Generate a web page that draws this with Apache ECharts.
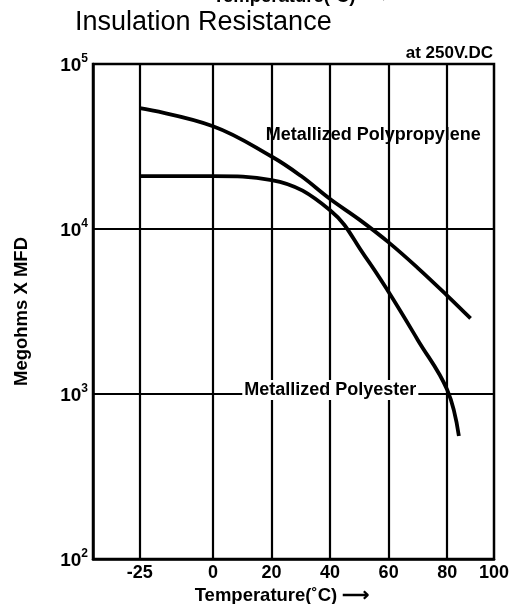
<!DOCTYPE html>
<html>
<head>
<meta charset="utf-8">
<script src="https://cdn.jsdelivr.net/npm/echarts@6/dist/echarts.min.js"></script>
<style>
html,body{margin:0;padding:0;background:#fff;}
#chart{width:509px;height:604px;}
</style>
</head>
<body>
<div id="chart"></div>
<script>
// Data (temperature in °C, Megohms x MFD)
const polypropyleneTemp = [-25, 0, 20, 30, 40, 50, 60, 70, 80, 88];
const polypropyleneIR = [54000, 42000, 27500, 21000, 15200, 11400, 8300, 5800, 3950, 2870];
const polyesterTemp = [-25, 0, 20, 40, 52, 60, 70, 80, 84];
const polyesterIR = [20900, 20900, 19800, 13000, 6800, 4150, 2120, 1060, 556];

const xGridValues = [-25, 0, 20, 40, 60, 80];
const xLabelValues = [-25, 0, 20, 40, 60, 80, 96];
const xLabelTexts = ['-25', '0', '20', '40', '60', '80', '100'];
const xMin = -41, xMax = 96;
const yMin = 100, yMax = 100000;

const seriesNames = ['Metallized Polypropylene', 'Metallized Polyester'];

const FONT = '"Liberation Sans", Arial, sans-serif';

const chart = echarts.init(document.getElementById('chart'), null, {renderer: 'canvas'});

function pairs(xs, ys) { return xs.map((x, i) => [x, ys[i]]); }

const option = {
  animation: false,
  backgroundColor: '#fff',
  title: {
    text: 'Insulation Resistance',
    left: 70, top: 4,
    textStyle: {fontFamily: FONT, fontSize: 27, fontWeight: 'normal', color: '#000'}
  },
  grid: {
    left: 93, right: 15, top: 64, bottom: 45,
    outerBoundsMode: 'none', containLabel: false,
    show: true, borderColor: '#000', borderWidth: 2.5, backgroundColor: 'transparent'
  },
  xAxis: {
    type: 'value', min: xMin, max: xMax,
    name: 'Temperature(\u02DAC) \u27F6',
    nameLocation: 'middle', nameGap: 19,
    nameTextStyle: {fontFamily: FONT, fontSize: 18.5, fontWeight: 'bold', color: '#000', padding: [0, 23, 0, 0]},
    axisLine: {show: true, onZero: false, lineStyle: {color: '#000', width: 2.5}},
    axisTick: {show: false, customValues: xGridValues},
    splitLine: {show: true, lineStyle: {color: '#000', width: 2.2}},
    axisLabel: {
      customValues: xLabelValues,
      formatter: v => xLabelTexts[xLabelValues.indexOf(v)] ?? String(v),
      fontFamily: FONT, fontSize: 18, fontWeight: 'bold', color: '#000', margin: 5
    }
  },
  yAxis: {
    type: 'log', logBase: 10, min: yMin, max: yMax,
    name: 'Megohms X MFD',
    nameLocation: 'middle', nameGap: 62, nameRotate: 90,
    nameTextStyle: {fontFamily: FONT, fontSize: 18.5, fontWeight: 'bold', color: '#000'},
    axisLine: {show: true, onZero: false, lineStyle: {color: '#000', width: 2.5}},
    axisTick: {show: false},
    splitLine: {show: true, lineStyle: {color: '#000', width: 2.2}},
    axisLabel: {
      margin: 5,
      formatter: v => '{b|10}{s|' + Math.round(Math.log10(v)) + '}',
      rich: {
        b: {fontFamily: FONT, fontSize: 19, fontWeight: 'bold', color: '#000', verticalAlign: 'bottom'},
        s: {fontFamily: FONT, fontSize: 12, fontWeight: 'bold', color: '#000', verticalAlign: 'top', padding: [0, 0, 10, 0]}
      }
    }
  },
  series: [
    {
      name: seriesNames[0], type: 'line', smooth: 0.4, showSymbol: false,
      data: pairs(polypropyleneTemp, polypropyleneIR),
      lineStyle: {color: '#000', width: 3.8}, z: 5
    },
    {
      name: seriesNames[1], type: 'line', smooth: 0.4, showSymbol: false,
      data: pairs(polyesterTemp, polyesterIR),
      lineStyle: {color: '#000', width: 3.8}, z: 5
    }
  ]
};
chart.setOption(option);

// Annotations positioned through the chart's own scales
const ppPos = chart.convertToPixel({gridIndex: 0}, [18, 37000]);
const pePos = chart.convertToPixel({gridIndex: 0}, [10, 1000]);
const topRight = chart.convertToPixel({gridIndex: 0}, [xMax, yMax]);

chart.setOption({
  graphic: [
    {
      type: 'text', left: ppPos[0], top: ppPos[1] - 9, z: 10,
      style: {text: seriesNames[0], fontFamily: FONT, fontSize: 18, fontWeight: 'bold', fill: '#000'}
    },
    {
      type: 'text', left: pePos[0], top: pePos[1] - 14, z: 10,
      style: {text: seriesNames[1], fontFamily: FONT, fontSize: 18, fontWeight: 'bold', fill: '#000',
        backgroundColor: '#fff', padding: [1, 2, 1, 2]}
    },
    {
      type: 'text', right: 509 - topRight[0] + 1, top: topRight[1] - 19, z: 10,
      style: {text: 'at 250V.DC', fontFamily: FONT, fontSize: 17, fontWeight: 'bold', fill: '#000'}
    },
    {
      type: 'text', left: 213, top: -13, z: 10,
      style: {text: 'Temperature(\u02DAC) \u27F6', fontFamily: FONT, fontSize: 18.5, fontWeight: 'bold', fill: '#000'}
    }
  ]
});
</script>
</body>
</html>
